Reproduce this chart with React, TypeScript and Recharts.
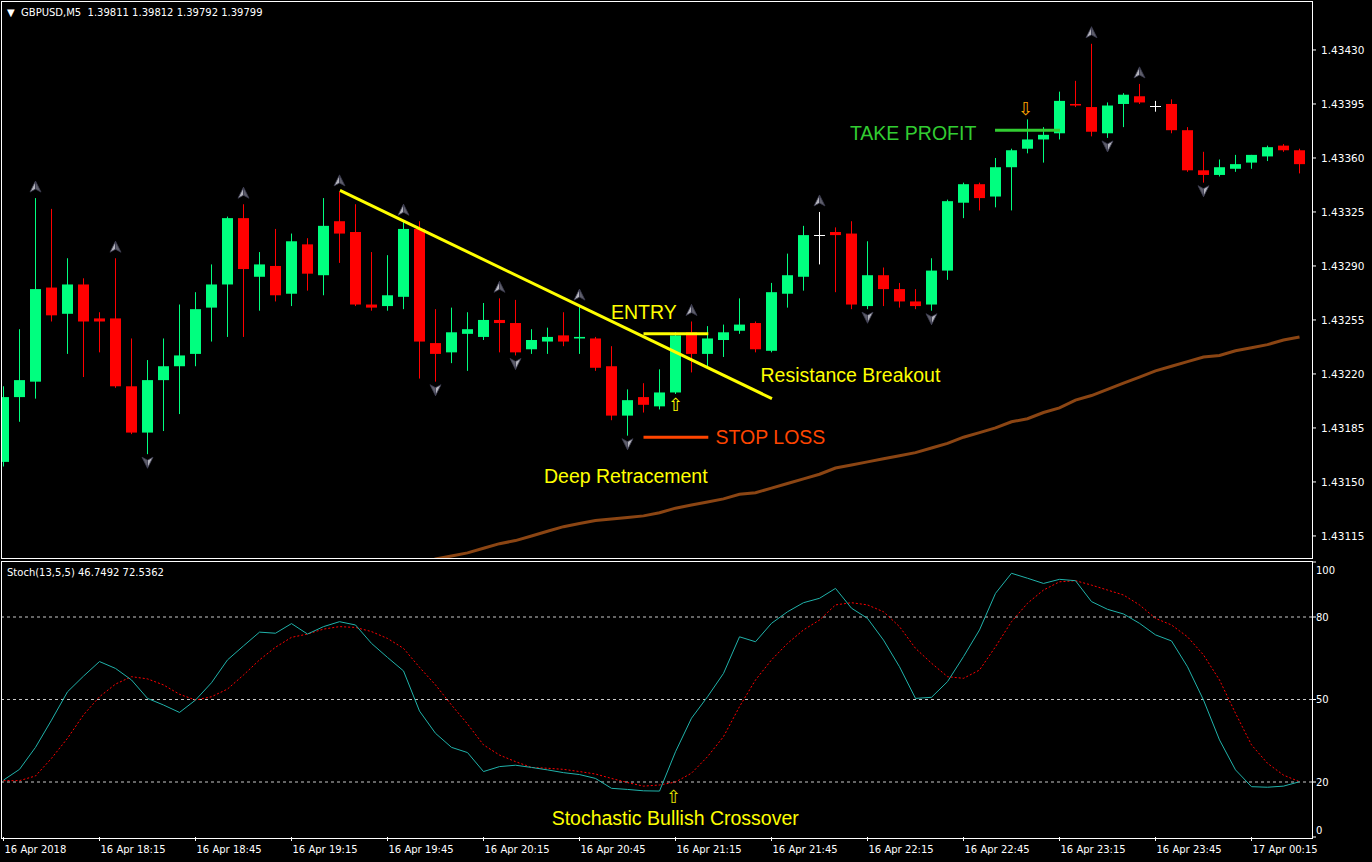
import React from 'react';
import { ComposedChart, Bar, Line, Scatter, XAxis, YAxis, ReferenceLine } from 'recharts';

// GBPUSD M5, 16 Apr 2018 17:45 -> 17 Apr 00:30, one candle per index
const opens = [
  1.43163, 1.43205, 1.43215, 1.43276, 1.43259, 1.43278, 1.43256, 1.43256, 1.43212, 1.43182,
  1.43216, 1.43225, 1.43233, 1.43263, 1.43278, 1.43321, 1.43283, 1.43290, 1.43272, 1.43304,
  1.43284, 1.43319, 1.43312, 1.43265, 1.43264, 1.43270, 1.43314, 1.43240, 1.43234, 1.43246,
  1.43244, 1.43255, 1.43253, 1.43236, 1.43241, 1.43245, 1.43243, 1.43243, 1.43225, 1.43193,
  1.43205, 1.43199, 1.43208, 1.43247, 1.43233, 1.43242, 1.43248, 1.43253, 1.43235, 1.43272,
  1.43283, 1.43310, 1.43312, 1.43311, 1.43264, 1.43284, 1.43275, 1.43267, 1.43265, 1.43287,
  1.43331, 1.43343, 1.43335, 1.43354, 1.43366, 1.43372, 1.43376, 1.43395, 1.43393, 1.43376,
  1.43395, 1.43400, 1.43394, 1.43395, 1.43378, 1.43352, 1.43349, 1.43353, 1.43357, 1.43361,
  1.43368, 1.43365,
];
const highs = [
  1.43212, 1.43249, 1.43334, 1.43327, 1.43295, 1.43282, 1.43260, 1.43295, 1.43243, 1.43229,
  1.43243, 1.43265, 1.43273, 1.43291, 1.43322, 1.43330, 1.43299, 1.43314, 1.43311, 1.43308,
  1.43334, 1.43338, 1.43330, 1.43299, 1.43297, 1.43319, 1.43319, 1.43262, 1.43263, 1.43260,
  1.43266, 1.43269, 1.43268, 1.43249, 1.43250, 1.43260, 1.43264, 1.43244, 1.43238, 1.43210,
  1.43214, 1.43223, 1.43247, 1.43254, 1.43251, 1.43252, 1.43269, 1.43254, 1.43279, 1.43298,
  1.43316, 1.43325, 1.43315, 1.43319, 1.43306, 1.43289, 1.43279, 1.43275, 1.43295, 1.43333,
  1.43344, 1.43344, 1.43360, 1.43366, 1.43385, 1.43380, 1.43403, 1.43410, 1.43434, 1.43396,
  1.43402, 1.43408, 1.43397, 1.43398, 1.43380, 1.43364, 1.43359, 1.43362, 1.43362, 1.43368,
  1.43369, 1.43366,
];
const lows = [
  1.43160, 1.43189, 1.43204, 1.43254, 1.43233, 1.43218, 1.43234, 1.43211, 1.43181, 1.43168,
  1.43183, 1.43194, 1.43225, 1.43241, 1.43244, 1.43244, 1.43261, 1.43267, 1.43264, 1.43274,
  1.43271, 1.43292, 1.43264, 1.43261, 1.43261, 1.43262, 1.43217, 1.43215, 1.43227, 1.43222,
  1.43242, 1.43234, 1.43232, 1.43233, 1.43233, 1.43238, 1.43233, 1.43222, 1.43190, 1.43180,
  1.43195, 1.43197, 1.43207, 1.43221, 1.43225, 1.43231, 1.43246, 1.43234, 1.43234, 1.43263,
  1.43274, 1.43291, 1.43273, 1.43262, 1.43262, 1.43264, 1.43263, 1.43262, 1.43261, 1.43281,
  1.43321, 1.43326, 1.43328, 1.43326, 1.43363, 1.43357, 1.43372, 1.43393, 1.43374, 1.43373,
  1.43380, 1.43395, 1.43390, 1.43376, 1.43351, 1.43344, 1.43348, 1.43351, 1.43353, 1.43358,
  1.43364, 1.43350,
];
const closes = [
  1.43205, 1.43216, 1.43275, 1.43258, 1.43278, 1.43254, 1.43254, 1.43212, 1.43182, 1.43216,
  1.43225, 1.43232, 1.43262, 1.43278, 1.43321, 1.43288, 1.43291, 1.43271, 1.43306, 1.43285,
  1.43316, 1.43311, 1.43265, 1.43263, 1.43271, 1.43314, 1.43241, 1.43233, 1.43247, 1.43249,
  1.43255, 1.43253, 1.43234, 1.43242, 1.43244, 1.43241, 1.43244, 1.43224, 1.43193, 1.43203,
  1.43200, 1.43208, 1.43245, 1.43233, 1.43243, 1.43247, 1.43252, 1.43236, 1.43273, 1.43284,
  1.43310, 1.43310, 1.43310, 1.43265, 1.43284, 1.43275, 1.43267, 1.43264, 1.43287, 1.43332,
  1.43343, 1.43334, 1.43354, 1.43365, 1.43372, 1.43375, 1.43397, 1.43394, 1.43377, 1.43394,
  1.43401, 1.43396, 1.43394, 1.43378, 1.43352, 1.43349, 1.43354, 1.43356, 1.43362, 1.43367,
  1.43365, 1.43356,
];
// moving average (brown), only visible from index 26 on
const maValues = [
  null, null, null, null, null, null, null, null, null, null,
  null, null, null, null, null, null, null, null, null, null,
  null, null, null, null, null, null, 1.43097, 1.43100, 1.43102, 1.43104,
  1.43107, 1.43110, 1.43112, 1.43115, 1.43118, 1.43121, 1.43123, 1.43125, 1.43126, 1.43127,
  1.43128, 1.43130, 1.43133, 1.43135, 1.43137, 1.43139, 1.43142, 1.43143, 1.43146, 1.43149,
  1.43152, 1.43155, 1.43159, 1.43161, 1.43163, 1.43165, 1.43167, 1.43169, 1.43172, 1.43175,
  1.43179, 1.43182, 1.43185, 1.43189, 1.43191, 1.43195, 1.43198, 1.43203, 1.43206, 1.43210,
  1.43214, 1.43218, 1.43222, 1.43225, 1.43228, 1.43231, 1.43232, 1.43235, 1.43237, 1.43239,
  1.43242, 1.43244,
];
const stochMain = [
  20.7, 24.6, 32.6, 42.5, 52.8, 58.5, 63.8, 61.3, 57.1, 50.4,
  48.0, 45.3, 49.8, 56.1, 64.4, 69.5, 74.5, 74.1, 77.6, 73.8,
  76.5, 78.3, 77.1, 70.4, 65.3, 60.4, 45.8, 37.7, 32.6, 30.7,
  23.8, 25.6, 26.1, 25.3, 24.4, 23.4, 22.7, 21.3, 17.7, 17.3,
  16.8, 16.7, 31.0, 43.2, 51.0, 59.5, 72.8, 71.0, 77.7, 81.9,
  85.2, 86.8, 90.4, 83.2, 79.5, 71.6, 61.9, 50.4, 50.8, 56.5,
  65.6, 75.3, 88.6, 95.9, 94.1, 92.2, 93.7, 93.2, 85.6, 82.8,
  81.1, 77.7, 73.5, 71.3, 61.9, 49.8, 35.3, 24.4, 18.3, 18.1,
  18.5, 20.1,
];
const stochSignal = [
  20.5, 20.5, 22.2, 28.6, 35.9, 44.4, 51.0, 55.6, 58.3, 57.5,
  55.3, 51.9, 49.8, 51.0, 53.8, 58.9, 64.4, 69.0, 72.6, 73.8,
  75.6, 76.5, 76.2, 74.7, 72.2, 68.6, 61.7, 55.3, 48.0, 41.1,
  33.5, 29.8, 27.4, 25.3, 25.0, 24.6, 23.8, 22.9, 21.3, 19.8,
  18.5, 18.9, 20.0, 23.2, 29.2, 36.5, 47.4, 57.1, 64.4, 70.4,
  75.3, 78.9, 84.4, 85.2, 84.4, 81.9, 76.5, 68.6, 63.2, 58.3,
  57.7, 60.7, 69.2, 78.3, 85.0, 89.8, 92.8, 93.2, 91.6, 89.8,
  88.0, 84.4, 79.5, 77.1, 72.8, 66.2, 57.1, 45.0, 33.5, 26.8,
  22.5, 20.1,
];
const fractalUp = [2, 7, 15, 21, 25, 31, 36, 43, 51, 68, 71];
const fractalDown = [9, 27, 32, 39, 54, 58, 69, 75];

const priceTicks = [1.43115, 1.4315, 1.43185, 1.4322, 1.43255, 1.4329, 1.43325, 1.4336, 1.43395, 1.4343];
const stochTicks = [0, 20, 50, 80, 100];
const stochLevels = [20, 50, 80];
const timeTickIdx = [0, 6, 12, 18, 24, 30, 36, 42, 48, 54, 60, 66, 72, 78];
const timeTickLabels = [
  '16 Apr 2018', '16 Apr 18:15', '16 Apr 18:45', '16 Apr 19:15', '16 Apr 19:45', '16 Apr 20:15',
  '16 Apr 20:45', '16 Apr 21:15', '16 Apr 21:45', '16 Apr 22:15', '16 Apr 22:45', '16 Apr 23:15',
  '16 Apr 23:45', '17 Apr 00:15',
];

// hand drawn objects: [index, price]
const trendLine = [[21.03, 1.43339], [48.03, 1.43204]];
const entryLine = [[40.0, 1.43246], [44.05, 1.43246]];
const stopLine = [[40.0, 1.43179], [44.05, 1.43179]];
const profitLine = [[61.97, 1.43378], [66.03, 1.43378]];

const priceNotes = [
  { k: 37.97, p: 1.4326, text: 'ENTRY', color: '#FFFF00', size: 19.5, anchor: 'start' },
  { k: 47.31, p: 1.43219, text: 'Resistance Breakout', color: '#FFFF00', size: 19.5, anchor: 'start' },
  { k: 44.5, p: 1.43179, text: 'STOP LOSS', color: '#FF4500', size: 19.5, anchor: 'start' },
  { k: 33.78, p: 1.43154, text: 'Deep Retracement', color: '#FFFF00', size: 19.5, anchor: 'start' },
  { k: 52.9, p: 1.43376, text: 'TAKE PROFIT', color: '#32CD32', size: 19.5, anchor: 'start' },
  { k: 41.97, p: 1.432, text: '⇧', color: '#FFFF00', size: 18, anchor: 'middle' },
  { k: 63.86, p: 1.43392, text: '⇩', color: '#FFA500', size: 18, anchor: 'middle' },
];
const stochNotes = [
  { k: 34.26, p: 6.8, text: 'Stochastic Bullish Crossover', color: '#FFFF00', size: 19.5, anchor: 'start' },
  { k: 41.875, p: 14.7, text: '⇧', color: '#E6E600', size: 18, anchor: 'middle' },
];

const X_DOMAIN = [-0.09375, 81.78125];
const PRICE_DOMAIN = [1.431007, 1.434611];
const UP = '#00FF7F';
const DOWN = '#FF0000';
const AXIS_FONT = 'DejaVu Sans, Verdana, sans-serif';
const NOTE_FONT = 'Liberation Sans, Arial, sans-serif';

const candles = opens.map((o, k) => ({
  k,
  o,
  h: highs[k],
  l: lows[k],
  c: closes[k],
  range: [lows[k], highs[k]],
  ma: maValues[k] ?? undefined,
}));
const upPts = fractalUp.map((k) => ({ k, p: highs[k] }));
const downPts = fractalDown.map((k) => ({ k, p: lows[k] }));
const stochData = stochMain.map((v, k) => ({ k, main: v, signal: stochSignal[k] }));
const seg = (s: number[][]) => s.map(([x, y]) => ({ x, y }));

function Candle(props: any) {
  const { x, y, width, height, payload } = props;
  if (!payload || height == null || isNaN(y)) return null;
  const { o, h, l, c } = payload;
  const cx = Math.floor(x + width / 2) + 0.5;
  const ppu = height / (h - l);
  const yo = y + (h - o) * ppu;
  const yc = y + (h - c) * ppu;
  const color = o === c ? '#FFFFFF' : c > o ? UP : DOWN;
  const top = Math.min(yo, yc);
  const bh = Math.max(Math.abs(yo - yc), 1);
  const ly = Math.round(yo) + 0.5;
  return (
    <g>
      <line x1={cx} x2={cx} y1={y} y2={y + height} stroke={color} strokeWidth={1} />
      {o === c ? (
        <line x1={cx - 5.5} x2={cx + 5.5} y1={ly} y2={ly} stroke={color} strokeWidth={1} />
      ) : (
        <rect x={cx - 5.5} y={top} width={11} height={bh} fill={color} />
      )}
    </g>
  );
}

function FractalUp(props: any) {
  const { cx, cy } = props;
  const y0 = cy - 11;
  return (
    <g>
      <path d={`M${cx},${y0 - 6} L${cx - 5.5},${y0 + 5} L${cx},${y0 + 2} Z`} fill="#B4B4BC" stroke="#3c3c50" strokeWidth={0.8} />
      <path d={`M${cx},${y0 - 6} L${cx},${y0 + 2} L${cx + 5.5},${y0 + 5} Z`} fill="#5E5E6A" stroke="#3c3c50" strokeWidth={0.8} />
    </g>
  );
}

function FractalDown(props: any) {
  const { cx, cy } = props;
  const y0 = cy + 8;
  return (
    <g>
      <path d={`M${cx},${y0 + 6} L${cx - 5.5},${y0 - 5} L${cx},${y0 - 2} Z`} fill="#5E5E6A" stroke="#3c3c50" strokeWidth={0.8} />
      <path d={`M${cx},${y0 + 6} L${cx},${y0 - 2} L${cx + 5.5},${y0 - 5} Z`} fill="#B4B4BC" stroke="#3c3c50" strokeWidth={0.8} />
    </g>
  );
}

function Note(props: any) {
  const { cx, cy, payload } = props;
  return (
    <text x={cx} y={cy} fill={payload.color} fontSize={payload.size} fontFamily={NOTE_FONT}
      dominantBaseline="central" textAnchor={payload.anchor}>
      {payload.text}
    </text>
  );
}

function TimeTick(props: any) {
  const { x, y, payload } = props;
  const i = timeTickIdx.indexOf(payload.value);
  return (
    <text x={x + 1} y={y + 3} dy="0.71em" textAnchor="start" fill="#FFFFFF" fontSize={10} fontFamily={AXIS_FONT}>
      {timeTickLabels[i]}
    </text>
  );
}

// keeps 100 and 0 inside the sub window, as the terminal does
function StochTick(props: any) {
  const { x, y, payload } = props;
  const yy = Math.min(Math.max(y, 10), 270);
  return (
    <text x={x - 2} y={yy} dominantBaseline="central" textAnchor="start" fill="#FFFFFF" fontSize={10} fontFamily={AXIS_FONT}>
      {payload.value}
    </text>
  );
}

export default function App() {
  return (
    <div style={{ position: 'absolute', left: 0, top: 0, width: 1372, height: 862, background: '#000', overflow: 'hidden' }}>
      <div style={{ position: 'absolute', left: 0, top: 0 }}>
        <ComposedChart width={1372} height={560} data={candles} margin={{ top: 2, right: 0, bottom: 2, left: 2 }}>
          <XAxis dataKey="k" type="number" domain={X_DOMAIN} allowDataOverflow hide />
          <YAxis orientation="right" type="number" domain={PRICE_DOMAIN} allowDataOverflow ticks={priceTicks}
            interval={0} width={60} axisLine={false} tickLine={{ stroke: '#FFFFFF' }} tickSize={4} tickMargin={5}
            tick={{ fill: '#FFFFFF', fontSize: 10.5, fontFamily: AXIS_FONT }} tickFormatter={(v: number) => v.toFixed(5)} />
          <Line dataKey="ma" stroke="#8B4513" strokeWidth={3} dot={false} isAnimationActive={false} />
          <Bar dataKey="range" barSize={11} shape={<Candle />} isAnimationActive={false} />
          <ReferenceLine segment={seg(trendLine)} stroke="#FFFF00" strokeWidth={3} />
          <ReferenceLine segment={seg(entryLine)} stroke="#FFFF00" strokeWidth={3} />
          <ReferenceLine segment={seg(stopLine)} stroke="#FF4500" strokeWidth={3} />
          <ReferenceLine segment={seg(profitLine)} stroke="#32CD32" strokeWidth={3} />
          <Scatter data={upPts} dataKey="p" shape={<FractalUp />} isAnimationActive={false} />
          <Scatter data={downPts} dataKey="p" shape={<FractalDown />} isAnimationActive={false} />
          <Scatter data={priceNotes} dataKey="p" shape={<Note />} isAnimationActive={false} />
        </ComposedChart>
      </div>
      <div style={{ position: 'absolute', left: 0, top: 560 }}>
        <ComposedChart width={1372} height={302} data={stochData} margin={{ top: 2, right: 0, bottom: 0, left: 2 }}>
          <XAxis dataKey="k" type="number" domain={X_DOMAIN} allowDataOverflow ticks={timeTickIdx} interval={0}
            height={25} axisLine={false} tickLine={{ stroke: '#FFFFFF' }} tickSize={4} tick={<TimeTick />} />
          <YAxis orientation="right" type="number" domain={[0, 100]} allowDataOverflow ticks={stochTicks} interval={0}
            width={60} axisLine={false} tickLine={{ stroke: '#FFFFFF' }} tickSize={4} tick={<StochTick />} />
          {stochLevels.map((v) => (
            <ReferenceLine key={v} y={v} stroke="#C8C8C8" strokeDasharray="3 3" strokeWidth={1} />
          ))}
          <Line dataKey="signal" stroke="#FF0000" strokeWidth={1} strokeDasharray="2 2" dot={false} isAnimationActive={false} />
          <Line dataKey="main" stroke="#20B2AA" strokeWidth={1} dot={false} isAnimationActive={false} />
          <Scatter data={stochNotes} dataKey="p" shape={<Note />} isAnimationActive={false} />
        </ComposedChart>
      </div>
      <div style={{ position: 'absolute', left: 1, top: 1, width: 1312, height: 558, border: '1px solid #FFFFFF', boxSizing: 'border-box', pointerEvents: 'none' }} />
      <div style={{ position: 'absolute', left: 1, top: 561, width: 1312, height: 278, border: '1px solid #FFFFFF', boxSizing: 'border-box', pointerEvents: 'none' }} />
      <div style={{ position: 'absolute', left: 7, top: 6, color: '#FFFFFF', fontFamily: AXIS_FONT, fontSize: 10, lineHeight: '13px', whiteSpace: 'pre' }}>
        {'▼  GBPUSD,M5  1.39811 1.39812 1.39792 1.39799'}
      </div>
      <div style={{ position: 'absolute', left: 7, top: 566, color: '#FFFFFF', fontFamily: AXIS_FONT, fontSize: 10, lineHeight: '13px', whiteSpace: 'pre' }}>
        {'Stoch(13,5,5) 46.7492 72.5362'}
      </div>
    </div>
  );
}
